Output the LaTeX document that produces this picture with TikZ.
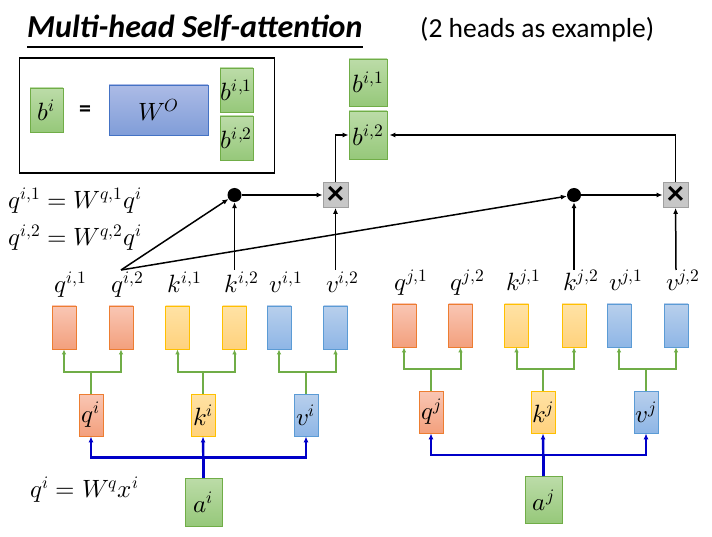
\documentclass[tikz,border=0pt]{standalone}
\usepackage{fontspec}
\usepackage{unicode-math}
\setmainfont{Carlito}
\setmathfont{Latin Modern Math}
\usetikzlibrary{positioning,arrows.meta,calc}
\definecolor{HeadGreen}{RGB}{112,173,71}
\definecolor{HeadOrange}{RGB}{237,125,49}
\definecolor{HeadYellow}{RGB}{255,192,0}
\definecolor{HeadBlue}{RGB}{91,155,213}
\definecolor{HeadDeep}{RGB}{68,114,196}
\definecolor{HeadGray}{RGB}{160,160,160}
\definecolor{HeadInput}{RGB}{0,0,200}
\tikzset{
  vec box/.style={
    draw,
    line width=0.8pt,
    minimum width=24pt,
    minimum height=43pt,
    inner sep=0pt,
    font=\fontsize{25}{28}\selectfont
  },
  q box/.style={vec box, draw=HeadOrange, top color={rgb,255:red,249;green,198;blue,180}, bottom color={rgb,255:red,243;green,160;blue,125}},
  k box/.style={vec box, draw=HeadYellow, top color={rgb,255:red,255;green,226;blue,165}, bottom color={rgb,255:red,255;green,210;blue,125}},
  v box/.style={vec box, draw=HeadBlue, top color={rgb,255:red,184;green,207;blue,236}, bottom color={rgb,255:red,142;green,182;blue,230}},
  g box/.style={vec box, draw=HeadGreen, top color={rgb,255:red,188;green,220;blue,168}, bottom color={rgb,255:red,150;green,200;blue,122}},
  w box/.style={vec box, draw=HeadDeep, top color={rgb,255:red,172;green,187;blue,230}, bottom color={rgb,255:red,128;green,157;blue,216}},
  mul box/.style={draw=HeadGray, fill=black!22, line width=0.8pt, minimum size=25pt, inner sep=0pt,
    font=\fontsize{34}{34}\selectfont\bfseries},
  dot/.style={circle, fill=black, minimum size=14pt, inner sep=0pt},
  head label/.style={anchor=base, inner sep=0pt, font=\fontsize{25}{28}\selectfont},
  eq label/.style={anchor=west, inner sep=0pt, font=\fontsize{25}{28}\selectfont},
  att arrow/.style={-{Latex[length=6pt,width=5pt]}, line width=1.5pt},
  split arrow/.style={-{Latex[length=5pt,width=4.5pt]}, line width=2pt, HeadGreen},
  in arrow/.style={-{Latex[length=6pt,width=5pt]}, line width=2.4pt, HeadInput}
}
\begin{document}
\begin{tikzpicture}[x=1pt,y=-1pt]
\useasboundingbox (0,0) rectangle (712,537);
% title
\node[anchor=base west, inner sep=0pt, font=\fontsize{32}{36}\selectfont\bfseries\itshape] (title) at (27,38) {Multi-head Self-attention};
\draw[line width=1.6pt] ($(title.base west)+(0,9)$) -- ($(title.base east)+(0,9)$);
\node[anchor=base west, inner sep=0pt, font=\fontsize{27.5}{30}\selectfont] (note) at (420,38) {(2 heads as example)};
% output projection
\node[draw, line width=1.6pt, minimum width=255pt, minimum height=115pt] (legend) at (147,115.5) {};
\node[g box, minimum width=33pt, minimum height=44pt] (bi) at (46.5,110) {$b^i$};
\node[font=\fontsize{24}{24}\selectfont\bfseries] (eqsign) at (85,111) {=};
\node[w box, minimum width=99pt, minimum height=50pt] (wo) at (158.5,110) {$W^O$};
\node[g box, minimum width=33pt, minimum height=44pt] (bo1) at (236.5,90) {$b^{i,1}$};
\node[g box, minimum width=33pt, minimum height=44pt] (bo2) at (236.5,138) {$b^{i,2}$};
% outputs
\node[g box, minimum width=38pt, minimum height=47pt] (bi1) at (368,82.5) {$b^{i,1}$};
\node[g box, minimum width=38pt, minimum height=48pt] (bi2) at (368,135) {$b^{i,2}$};
% equations
\node[eq label] (eqa) at (8,201) {$q^{i,1}=W^{q,1}q^i$};
\node[eq label] (eqb) at (8,238) {$q^{i,2}=W^{q,2}q^i$};
\node[eq label] (eqc) at (30,490) {$q^i=W^qx^i$};
% head vectors of i
\node[q box] (qi1) at (64,327.5) {};
\node[q box] (qi2) at (121,327.5) {};
\node[k box] (ki1) at (177.5,327.5) {};
\node[k box] (ki2) at (234.5,327.5) {};
\node[v box] (vi1) at (279,327.5) {};
\node[v box] (vi2) at (335.5,327.5) {};
% head vectors of j
\node[q box] (qj1) at (404,325.5) {};
\node[q box] (qj2) at (460.5,325.5) {};
\node[k box] (kj1) at (516.5,325.5) {};
\node[k box] (kj2) at (574,325.5) {};
\node[v box] (vj1) at (619,325.5) {};
\node[v box] (vj2) at (676,325.5) {};
% labels over them
\node[head label] (lqi1) at ($(qi1.north)+(7,-13)$) {$q^{i,1}$};
\node[head label] (lqi2) at ($(qi2.north)+(7,-13)$) {$q^{i,2}$};
\node[head label] (lki1) at ($(ki1.north)+(7,-13)$) {$k^{i,1}$};
\node[head label] (lki2) at ($(ki2.north)+(7,-13)$) {$k^{i,2}$};
\node[head label] (lvi1) at ($(vi1.north)+(7,-13)$) {$v^{i,1}$};
\node[head label] (lvi2) at ($(vi2.north)+(7,-13)$) {$v^{i,2}$};
\node[head label] (lqj1) at ($(qj1.north)+(7,-13)$) {$q^{j,1}$};
\node[head label] (lqj2) at ($(qj2.north)+(7,-13)$) {$q^{j,2}$};
\node[head label] (lkj1) at ($(kj1.north)+(7,-13)$) {$k^{j,1}$};
\node[head label] (lkj2) at ($(kj2.north)+(7,-13)$) {$k^{j,2}$};
\node[head label] (lvj1) at ($(vj1.north)+(7,-13)$) {$v^{j,1}$};
\node[head label] (lvj2) at ($(vj2.north)+(7,-13)$) {$v^{j,2}$};
% q k v and inputs
\node[q box, minimum height=42pt] (qi) at (91,415) {$q^i$};
\node[k box, minimum height=42pt] (ki) at (203,415) {$k^i$};
\node[v box, minimum height=42pt] (vi) at (306,415) {$v^i$};
\node[q box, minimum height=42pt] (qj) at (431,412) {$q^j$};
\node[k box, minimum height=42pt] (kj) at (543,412) {$k^j$};
\node[v box, minimum height=42pt] (vj) at (646,412) {$v^j$};
\node[g box, minimum width=37pt, minimum height=48pt] (ai) at (203.5,502) {$a^i$};
\node[g box, minimum width=37pt, minimum height=47pt] (aj) at (543.5,500) {$a^j$};
% attention
\node[dot] (dot1) at (234.5,195) {};
\node[dot] (dot2) at (574,195) {};
\node[mul box] (mul1) at (335.5,195) {×};
\node[mul box] (mul2) at (675.5,195) {×};
\coordinate (srcrow) at (0,270);
\coordinate (sqi2) at (121,270);
\draw[att arrow] (sqi2) -- (dot1);
\draw[att arrow] (sqi2) -- (dot2);
\draw[att arrow] (ki2 |- srcrow) -- (dot1);
\draw[att arrow] (vi2 |- srcrow) -- (mul1);
\draw[att arrow] (kj2 |- srcrow) -- (dot2);
\draw[att arrow] (vj2 |- srcrow) -- (mul2);
\draw[att arrow] (dot1) -- (mul1);
\draw[att arrow] (dot2) -- (mul2);
\draw[att arrow] (mul1.north) |- (bi2.west);
\draw[att arrow, shorten >=2pt] (mul2.north) |- (bi2.east);
% splitting into heads
\draw[split arrow] (qi.north) -- ++(0,-22) -| (qi1.south);
\draw[split arrow] (qi.north) -- ++(0,-22) -| (qi2.south);
\draw[split arrow] (ki.north) -- ++(0,-22) -| (ki1.south);
\draw[split arrow] (ki.north) -- ++(0,-22) -| (ki2.south);
\draw[split arrow] (vi.north) -- ++(0,-22) -| (vi1.south);
\draw[split arrow] (vi.north) -- ++(0,-22) -| (vi2.south);
\draw[split arrow] (qj.north) -- ++(0,-22) -| (qj1.south);
\draw[split arrow] (qj.north) -- ++(0,-22) -| (qj2.south);
\draw[split arrow] (kj.north) -- ++(0,-22) -| (kj1.south);
\draw[split arrow] (kj.north) -- ++(0,-22) -| (kj2.south);
\draw[split arrow] (vj.north) -- ++(0,-22) -| (vj1.south);
\draw[split arrow] (vj.north) -- ++(0,-22) -| (vj2.south);
% inputs to q k v
\draw[in arrow] (ai.north) -- (ki.south);
\draw[in arrow] (ai.north) -- ++(0,-20) -| (qi.south);
\draw[in arrow] (ai.north) -- ++(0,-20) -| (vi.south);
\draw[in arrow] (aj.north) -- (kj.south);
\draw[in arrow] (aj.north) -- ++(0,-21) -| (qj.south);
\draw[in arrow] (aj.north) -- ++(0,-21) -| (vj.south);
\end{tikzpicture}
\end{document}
